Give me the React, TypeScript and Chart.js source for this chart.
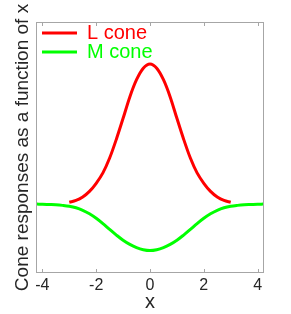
import React, { useEffect, useRef } from "react";
import { Chart, registerables } from "chart.js";

Chart.register(...registerables);

const seriesNames = ["L cone", "M cone"];
const seriesColors = ["#ff0000", "#00ff00"];

const lX = [-3, -2.75, -2.5, -2.25, -2, -1.75, -1.5, -1.25, -1, -0.75, -0.5, -0.25, 0, 0.25, 0.5, 0.75, 1, 1.25, 1.5, 1.75, 2, 2.25, 2.5, 2.75, 3];
const lY = [0.012, 0.025, 0.05, 0.09, 0.148, 0.222, 0.328, 0.463, 0.612, 0.765, 0.888, 0.97, 1, 0.97, 0.888, 0.765, 0.612, 0.463, 0.328, 0.222, 0.148, 0.09, 0.05, 0.025, 0.012];

const mX = [-4.2, -4, -3.75, -3.5, -3.25, -3, -2.75, -2.5, -2.25, -2, -1.75, -1.5, -1.25, -1, -0.75, -0.5, -0.25, 0, 0.25, 0.5, 0.75, 1, 1.25, 1.5, 1.75, 2, 2.25, 2.5, 2.75, 3, 3.25, 3.5, 3.75, 4, 4.2];
const mY = [-0.001, -0.002, -0.004, -0.006, -0.01, -0.016, -0.027, -0.045, -0.07, -0.102, -0.14, -0.182, -0.222, -0.259, -0.289, -0.312, -0.327, -0.333, -0.327, -0.312, -0.289, -0.259, -0.222, -0.182, -0.14, -0.102, -0.07, -0.045, -0.027, -0.016, -0.01, -0.006, -0.004, -0.002, -0.001];

const xTicks = [-4, -2, 0, 2, 4];
const xRange = [-4.2, 4.2];
const yRange = [-0.486, 1.293];
const xTitle = "x";
const yTitle = "Cone responses as a function of x";

const FONT = "'Liberation Sans', Arial, Helvetica, sans-serif";

const boxPlugin = {
  id: "boxPlugin",
  afterDatasetsDraw(chart: any) {
    const { ctx, chartArea } = chart;
    const { left, right, top, bottom } = chartArea;
    const xs = chart.scales.x;
    ctx.save();
    ctx.strokeStyle = "#a6a6a6";
    ctx.lineWidth = 1;
    ctx.strokeRect(Math.round(left) - 0.5, Math.round(top) - 0.5, Math.round(right - left) + 1, Math.round(bottom - top) + 1);
    ctx.beginPath();
    for (const t of xTicks) {
      const px = Math.round(xs.getPixelForValue(t)) + 0.5;
      ctx.moveTo(px, top);
      ctx.lineTo(px, top + 3);
      ctx.moveTo(px, bottom);
      ctx.lineTo(px, bottom - 3);
    }
    ctx.stroke();
    // legend
    const ds = chart.data.datasets;
    ctx.font = `20px ${FONT}`;
    ctx.textBaseline = "alphabetic";
    ctx.textAlign = "left";
    ds.forEach((d: any, i: number) => {
      const y = top + 10 + i * 19;
      ctx.strokeStyle = d.borderColor;
      ctx.lineWidth = 3;
      ctx.beginPath();
      ctx.moveTo(left + 5, y);
      ctx.lineTo(left + 40, y);
      ctx.stroke();
      ctx.fillStyle = d.borderColor;
      ctx.fillText(d.label, left + 50, y + 5.5);
    });
    ctx.restore();
  },
};

export default function App() {
  const ref = useRef<HTMLCanvasElement | null>(null);
  useEffect(() => {
    if (!ref.current) return;
    const chart = new Chart(ref.current, {
      type: "scatter",
      data: {
        datasets: [
          {
            label: seriesNames[0],
            data: lX.map((x, i) => ({ x, y: lY[i] })),
            borderColor: seriesColors[0],
            backgroundColor: seriesColors[0],
            showLine: true,
            pointRadius: 0,
            borderWidth: 3,
            cubicInterpolationMode: "monotone",
          },
          {
            label: seriesNames[1],
            data: mX.map((x, i) => ({ x, y: mY[i] })),
            borderColor: seriesColors[1],
            backgroundColor: seriesColors[1],
            showLine: true,
            pointRadius: 0,
            borderWidth: 3,
            cubicInterpolationMode: "monotone",
          },
        ],
      },
      options: {
        animation: false,
        responsive: false,
        events: [],
        layout: { padding: { top: 23, right: 28, left: 0, bottom: 0 } },
        plugins: { legend: { display: false }, tooltip: { enabled: false } },
        scales: {
          x: {
            type: "linear",
            min: xRange[0],
            max: xRange[1],
            grid: { display: false, drawTicks: false },
            border: { display: false },
            afterFit: (s: any) => {
              s.height = 42;
            },
            afterBuildTicks: (s: any) => {
              s.ticks = xTicks.map((v) => ({ value: v }));
            },
            ticks: {
              includeBounds: false,
              padding: 4,
              color: "#262626",
              font: { family: FONT, size: 16 },
              callback: (v: any) => String(v),
            },
            title: {
              display: true,
              text: xTitle,
              color: "#262626",
              font: { family: FONT, size: 20 },
              padding: { top: 0, bottom: 0 },
            },
          },
          y: {
            type: "linear",
            min: yRange[0],
            max: yRange[1],
            grid: { display: false, drawTicks: false },
            border: { display: false },
            ticks: { display: false },
            afterFit: (s: any) => {
              s.width = 37;
            },
            title: {
              display: true,
              text: yTitle,
              color: "#262626",
              font: { family: FONT, size: 19 },
              padding: { top: 11, bottom: 0 },
            },
          },
        },
      },
      plugins: [boxPlugin],
    });
    return () => chart.destroy();
  }, []);
  return (
    <div style={{ position: "absolute", left: 0, top: 0, width: 291, height: 314, background: "#fff" }}>
      <canvas ref={ref} width={291} height={314} />
    </div>
  );
}
